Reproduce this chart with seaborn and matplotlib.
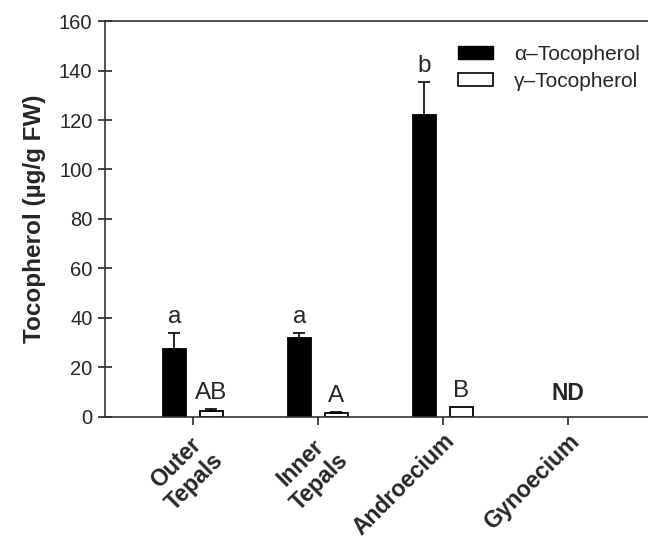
import numpy as np
import pandas as pd
import matplotlib
matplotlib.use("Agg")
import matplotlib.pyplot as plt
from matplotlib.patches import Patch
import seaborn as sns

# Tissue categories and measured tocopherol contents (µg/g FW)
tissues = ["Outer\nTepals", "Inner\nTepals", "Androecium", "Gynoecium"]
alpha_mean = [27.4, 32.0, 122.0, np.nan]
alpha_err = [6.5, 2.0, 13.2, np.nan]
gamma_mean = [2.4, 1.6, 4.0, np.nan]
gamma_err = [0.8, 0.3, 0.0, np.nan]
alpha_letters = ["a", "a", "b", ""]
gamma_letters = ["AB", "A", "B", ""]
series = ["α–Tocopherol", "γ–Tocopherol"]

sns.set_style("ticks")
plt.rcParams["font.family"] = ["Liberation Sans", "DejaVu Sans"]

df = pd.DataFrame({
    "tissue": tissues * 2,
    "form": [series[0]] * 4 + [series[1]] * 4,
    "value": alpha_mean + gamma_mean,
    "err": alpha_err + gamma_err,
})

fig = plt.figure(figsize=(6.48, 5.4), dpi=100)
ax = fig.add_axes([0.162, 0.2278, 0.838, 0.7333])

width = 0.592
gap = 0.378
sns.barplot(data=df, x="tissue", y="value", hue="form", order=tissues,
            hue_order=series, palette={series[0]: "black", series[1]: "white"},
            width=width, gap=gap, errorbar=None, edgecolor="black",
            linewidth=1.3, legend=False, ax=ax, saturation=1)

# one-sided error bars and significance letters above each bar
offsets = [-width / 4, width / 4]
for k, (means, errs, letters) in enumerate(
        [(alpha_mean, alpha_err, alpha_letters),
         (gamma_mean, gamma_err, gamma_letters)]):
    for i, (m, e, lab) in enumerate(zip(means, errs, letters)):
        if np.isnan(m):
            continue
        x = i + offsets[k]
        if e > 0:
            ax.errorbar(x, m, yerr=[[0], [e]], fmt="none", ecolor="black",
                        elinewidth=1.2, capsize=4, capthick=1.2, zorder=3)
        ax.text(x, m + e + 2.0, lab, ha="center", va="bottom", fontsize=17.5)

ax.text(3, 4.8, "ND", ha="center", va="bottom", fontsize=16.5,
        fontweight="bold")

ax.set_xlim(-0.704, 3.64)
ax.set_ylim(0, 160)
ax.set_yticks(np.arange(0, 161, 20))
ax.set_xlabel("")
ax.set_ylabel("Tocopherol (µg/g FW)", fontsize=17.5, fontweight="bold",
              labelpad=9)

ax.set_xticks(range(len(tissues)))
ax.set_xticklabels(tissues, rotation=45, ha="right", va="top",
                   rotation_mode="anchor", fontsize=16.5, fontweight="bold",
                   multialignment="center")
ax.tick_params(axis="y", direction="inout", length=10, width=1.2,
               labelsize=14.5, pad=4)
ax.tick_params(axis="x", direction="out", length=6, width=1.2, pad=3)

for side in ["left", "bottom", "top"]:
    ax.spines[side].set_visible(True)
    ax.spines[side].set_linewidth(1.2)
    ax.spines[side].set_color("#333333")
ax.spines["right"].set_visible(False)

handles = [Patch(facecolor="black", edgecolor="black", label=series[0]),
           Patch(facecolor="white", edgecolor="black", linewidth=1.2,
                 label=series[1])]
ax.legend(handles=handles, loc="upper left", bbox_to_anchor=(0.65, 0.94),
          frameon=False, fontsize=15, handlelength=1.7, handleheight=0.55,
          handletextpad=1.0, labelspacing=0.4, borderaxespad=0,
          borderpad=0)

fig.savefig("out.png", dpi=100)
